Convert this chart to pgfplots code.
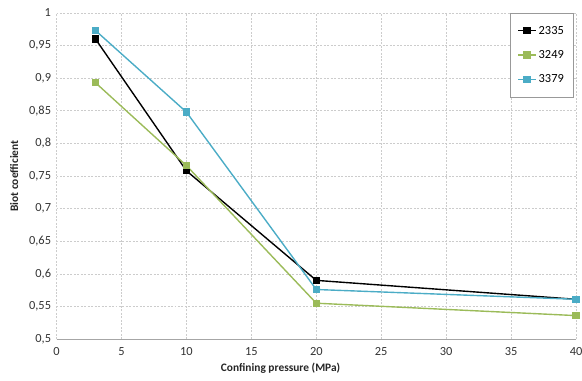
\documentclass[border=0pt]{standalone}
\usepackage{pgfplots}
\pgfplotsset{compat=1.18}
\usepackage{fontspec}
\setmainfont{Carlito}
\definecolor{cblack}{HTML}{000000}
\definecolor{cgreen}{HTML}{9BBB59}
\definecolor{cblue}{HTML}{4BACC6}
\definecolor{gridc}{HTML}{CCCCCC}
\begin{document}
\begin{tikzpicture}[x=1pt,y=1pt]
\begin{axis}[
  scale only axis,
  width=524pt, height=329pt,
  xmin=0, xmax=40, ymin=0.5, ymax=1,
  xtick={0,5,...,40},
  ytick={0.5,0.55,...,1.0001},
  /pgf/number format/assume math mode=true,
  /pgf/number format/use comma,
  /pgf/number format/precision=2,
  yticklabel style={/pgf/number format/fixed},
  xticklabel style={font=\fontsize{12.5}{14}\selectfont, color=black!80, yshift=-5pt},
  yticklabel style={font=\fontsize{12.5}{14}\selectfont, color=black!80, xshift=-2pt},
  tick style={draw=none},
  grid=major,
  grid style={gridc, dash pattern=on 2pt off 1.5pt, line width=0.6pt},
  axis x line*=bottom,
  axis y line*=left,
  x axis line style={draw=gray!70, line width=0.8pt, -},
  y axis line style={draw=none},
  xlabel={\textbf{Confining pressure (MPa)}},
  ylabel={\textbf{Biot coefficient}},
  label style={font=\fontsize{11.5}{13}\selectfont, color=black!85},
  xlabel style={yshift=-1pt, xshift=-36pt},
  ylabel style={yshift=4pt},
  legend style={at={(0.994,1)}, anchor=north east, draw=gray!80, font=\fontsize{12.5}{14}\selectfont, row sep=11pt, inner xsep=7pt, inner ysep=11pt, cells={anchor=west}},
  legend image code/.code={\draw[#1] (0pt,0pt) -- (18pt,0pt); \draw[#1,mark repeat=2,mark phase=2] plot coordinates {(0pt,0pt) (9pt,0pt) (18pt,0pt)};},
  every axis plot/.append style={line width=1.4pt, mark=square*, mark size=3pt},
]
\addplot[color=cblack, mark options={fill=cblack}] coordinates {(3,0.960) (10,0.758) (20,0.590) (40,0.561)};
\addlegendentry{2335}
\addplot[color=cgreen, mark options={fill=cgreen}] coordinates {(3,0.893) (10,0.766) (20,0.555) (40,0.536)};
\addlegendentry{3249}
\addplot[color=cblue, mark options={fill=cblue}] coordinates {(3,0.973) (10,0.848) (20,0.576) (40,0.561)};
\addlegendentry{3379}
\end{axis}
\pgfresetboundingbox
\path[use as bounding box] (-57pt,-42pt) rectangle (530pt,342pt);
\end{tikzpicture}
\end{document}
